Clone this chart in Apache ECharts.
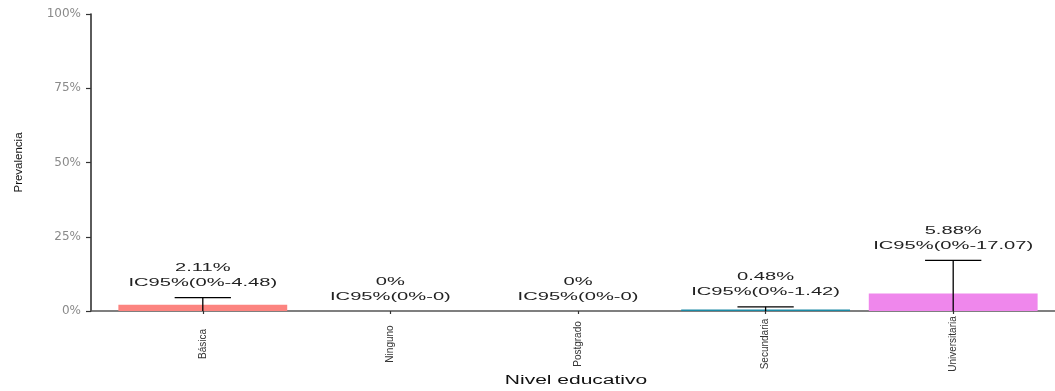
<!DOCTYPE html>
<html>
<head>
<meta charset="utf-8">
<script src="https://cdn.jsdelivr.net/npm/echarts@6/dist/echarts.min.js"></script>
<style>
  html, body { margin: 0; padding: 0; background: #ffffff; }
  #chart { width: 1055px; height: 391px; }
</style>
</head>
<body>
<div id="chart"></div>
<script>
// Prevalence by education level, with 95% confidence intervals
const categories = ['Básica', 'Ninguno', 'Postgrado', 'Secundaria', 'Universitaria'];
const prevalence = [2.11, 0, 0, 0.48, 5.88];
const ciLower = [0, 0, 0, 0, 0];
const ciUpper = [4.48, 0, 0, 1.42, 17.07];
const barColors = ['#FC8480', '#A3A500', '#00BF7D', '#1C8AA5', '#EF87EC'];
const yTicks = [0, 25, 50, 75, 100];

const FONT = '"Liberation Sans", Arial, sans-serif';
const STRETCH = 1.75;

const chart = echarts.init(document.getElementById('chart'), null, { renderer: 'canvas' });

const plotTop = 14;
const plotBottom = 80;

const option = {
  animation: false,
  backgroundColor: '#ffffff',
  grid: [
    // frame grid: carries the axis lines and y labels
    { left: 91, right: 0, top: plotTop, bottom: plotBottom },
    // data grid: inset so categories keep ggplot-style padding
    { left: 109, width: 938, top: plotTop, bottom: plotBottom }
  ],
  xAxis: [
    {
      gridIndex: 0, type: 'category', data: [''],
      axisLine: { show: true, lineStyle: { color: '#555555', width: 1.6 } },
      axisTick: { show: false }, axisLabel: { show: false }, splitLine: { show: false }
    },
    {
      gridIndex: 1, type: 'category', data: categories,
      axisLine: { show: false },
      axisTick: { show: true, alignWithLabel: true, length: 3, lineStyle: { color: '#333333', width: 1.2 } },
      axisLabel: {
        rotate: 90, align: 'center', verticalAlign: 'middle', margin: 33,
        fontFamily: FONT, fontSize: 10, color: '#333333', interval: 0
      },
      splitLine: { show: false }
    }
  ],
  yAxis: [
    {
      gridIndex: 0, type: 'value', min: 0, max: 100, interval: 25,
      axisLine: { show: true, lineStyle: { color: '#333333', width: 1.6 } },
      axisTick: { show: true, length: 5, lineStyle: { color: '#333333', width: 1.2 } },
      axisLabel: {
        formatter: v => yTicks.includes(v) ? v + '%' : '',
        fontFamily: '"DejaVu Sans", sans-serif', fontSize: 12, color: '#8a8a8a', margin: 10
      },
      splitLine: { show: false },
      name: 'Prevalencia', nameLocation: 'middle', nameRotate: 90, nameGap: 66,
      nameTextStyle: { fontFamily: FONT, fontSize: 11.5, color: '#111111' }
    },
    {
      gridIndex: 1, type: 'value', min: 0, max: 100, interval: 25, show: false
    }
  ],
  graphic: [
    {
      type: 'text', x: 576, y: 381, scaleX: STRETCH,
      style: {
        text: 'Nivel educativo', textAlign: 'center', textVerticalAlign: 'middle',
        font: '12px ' + FONT, fill: '#111111'
      }
    }
  ],
  series: [
    {
      type: 'bar', xAxisIndex: 1, yAxisIndex: 1, barWidth: '90%',
      data: prevalence.map((v, i) => ({ value: v, itemStyle: { color: barColors[i] } })),
      z: 2
    },
    {
      // error bars: stem from lower to upper bound with a cap on top
      type: 'custom', xAxisIndex: 1, yAxisIndex: 1, z: 3,
      data: categories.map((c, i) => [i, ciLower[i], ciUpper[i]]),
      renderItem: (params, api) => {
        const i = api.value(0);
        const lo = api.coord([i, api.value(1)]);
        const hi = api.coord([i, api.value(2)]);
        const capHalf = api.size([1, 0])[0] * 0.15;
        if (api.value(2) <= api.value(1)) return { type: 'group', children: [] };
        const st = { stroke: '#000000', lineWidth: 1.3 };
        return {
          type: 'group',
          children: [
            { type: 'line', shape: { x1: lo[0], y1: lo[1], x2: hi[0], y2: hi[1] }, style: st },
            { type: 'line', shape: { x1: hi[0] - capHalf, y1: hi[1], x2: hi[0] + capHalf, y2: hi[1] }, style: st }
          ]
        };
      }
    },
    {
      // value and interval labels above each error bar
      type: 'custom', xAxisIndex: 1, yAxisIndex: 1, z: 4,
      data: categories.map((c, i) => [i, prevalence[i], ciLower[i], ciUpper[i]]),
      renderItem: (params, api) => {
        const i = api.value(0);
        const top = api.coord([i, Math.max(api.value(1), api.value(3))]);
        const txt = api.value(1) + '%\nIC95%(' + api.value(2) + '%-' + api.value(3) + ')';
        return {
          type: 'text', x: top[0], y: top[1] - 7, scaleX: STRETCH,
          style: {
            text: txt, textAlign: 'center', textVerticalAlign: 'bottom',
            font: '11.5px ' + FONT, fill: '#222222', lineHeight: 15
          }
        };
      }
    }
  ]
};

chart.setOption(option);
</script>
</body>
</html>
